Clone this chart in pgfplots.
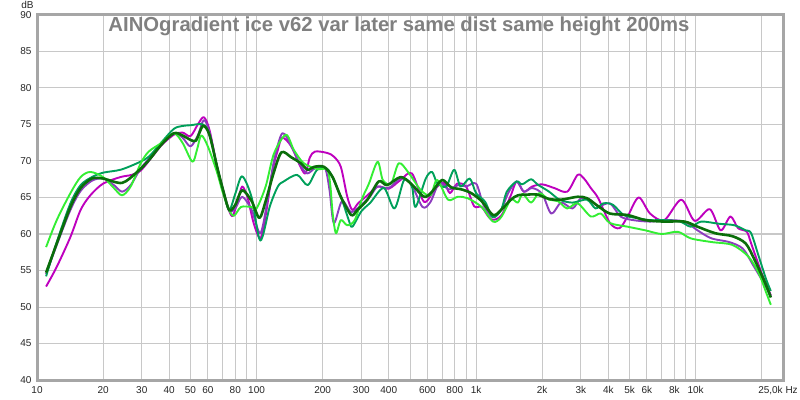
\documentclass[border=0pt]{standalone}
\usepackage{pgfplots}
\pgfplotsset{compat=1.18}
\usepackage{fontspec}
\setmainfont{Liberation Sans}
\definecolor{cMag}{HTML}{BE00BE}
\definecolor{cPur}{HTML}{8C3CBE}
\definecolor{cTeal}{HTML}{00A05A}
\definecolor{cLgr}{HTML}{33EE33}
\definecolor{cDgr}{HTML}{0A6E0A}
\definecolor{gridc}{HTML}{C8C8C8}
\definecolor{framec}{HTML}{A6A6A6}
\definecolor{titlec}{HTML}{808080}
\begin{document}
\begin{tikzpicture}[x=1pt,y=1pt]
\path[use as bounding box] (0,0) rectangle (800,399);
\begin{axis}[name=ax, at={(37pt,19pt)}, anchor=south west,
  scale only axis, width=746pt, height=365pt,
  xmode=log, xmin=10, xmax=25000, ymin=40, ymax=90,
  ytick={40,45,...,90},
  xtick={10,20,30,40,50,60,80,100,200,300,400,600,800,1000,2000,3000,4000,5000,6000,8000,10000},
  xticklabels={10,20,30,40,50,60,80,100,200,300,400,600,800,1k,2k,3k,4k,5k,6k,8k,10k},
  minor xtick={70,90,500,700,900,7000,9000,20000},
  grid=both,
  major grid style={draw=gridc, line width=1pt},
  minor grid style={draw=gridc, line width=1pt},
  major tick length=0pt, minor tick length=0pt,
  axis line style={draw=framec, line width=3pt},
  /pgf/number format/assume math mode=true,
  tick label style={font=\fontsize{10}{12}\selectfont, text=black!85},
  xticklabel style={anchor=base, yshift=-13.3pt},
  yticklabel style={anchor=east, xshift=-2pt},
  every axis plot/.append style={smooth, tension=0.5, line join=round},
]
\addplot[cMag, line width=1.9pt] coordinates {(11,52.8)(12.3,55.5)(14.2,59.6)(15.8,63.3)(17.5,65.3)(20,66.9)(24,67.8)(27,68.1)(29.7,68.7)(33.5,70.6)(37,72.2)(42,73.6)(46,73.9)(50,73.4)(54,75.0)(57.5,76.0)(61,74.3)(66,69.3)(70,66.3)(75,63.2)(78,62.5)(82,64.5)(86,66.5)(91,65.0)(97,61.5)(104,59.4)(110,62.5)(118,68.5)(125,71.5)(131,73.2)(144,72.0)(158,69.3)(167,68.3)(175,70.5)(185,71.3)(210,71.1)(225,70.6)(242,69.2)(259,65.1)(273,63.3)(290,64.2)(320,65.3)(356,66.5)(400,66.2)(453,67.4)(510,68.3)(580,64.4)(655,66.3)(715,67.0)(760,65.6)(820,66.9)(900,66.5)(980,63.8)(1060,63.7)(1170,62.0)(1300,62.5)(1440,65.3)(1530,67.2)(1650,65.8)(1800,66.5)(2000,66.8)(2270,66.3)(2600,65.8)(2900,68.1)(3100,67.6)(3330,66.3)(3600,64.9)(4070,61.5)(4500,60.8)(4900,62.4)(5500,65.0)(6200,62.8)(7200,61.9)(8600,64.7)(9900,61.8)(11600,63.4)(13000,60.5)(14400,62.4)(15600,60.8)(17100,60.3)(17900,58.7)(20000,54.6)(22000,51.6)};
\addplot[cPur, line width=1.9pt] coordinates {(11,54.5)(12.3,58.5)(14.2,63.3)(15.8,65.9)(17.8,67.3)(20,67.6)(22.4,66.7)(24.4,65.8)(26.7,66.7)(29.7,69.0)(33.5,70.8)(37,72.4)(42,73.8)(46,73.2)(50,72.0)(54,73.5)(57.5,75.6)(61,74.0)(66,69.3)(70,66.3)(75,63.2)(80,63.5)(86,65.1)(95,63.3)(104,60.1)(112,64.5)(120,70.0)(131,73.8)(144,72.0)(158,69.5)(170,68.3)(185,69.0)(205,69.0)(215,66.0)(225,61.5)(245,64.5)(270,63.0)(300,64.0)(330,65.2)(356,66.5)(400,66.3)(453,67.6)(505,66.9)(570,63.7)(620,64.4)(680,67.0)(750,66.1)(830,66.7)(900,66.5)(1000,66.9)(1080,64.0)(1190,62.3)(1300,63.3)(1400,65.6)(1530,67.2)(1650,65.8)(1800,66.3)(2000,65.5)(2200,62.8)(2440,64.3)(2750,63.5)(3000,64.9)(3300,64.7)(3600,63.8)(4070,64.2)(4550,62.4)(5200,61.9)(6200,61.7)(7400,61.9)(8900,61.7)(10200,60.5)(11800,59.4)(14200,58.9)(16400,58.0)(18300,55.7)(20500,53.2)(22000,51.5)};
\addplot[cTeal, line width=1.9pt] coordinates {(11,54.2)(12.3,58.9)(14.2,64.2)(15.8,66.7)(17.8,67.8)(20,68.4)(24,68.8)(28.6,69.7)(32.3,70.6)(37,72.6)(42,74.4)(46,74.8)(50,74.9)(57,75.0)(61,73.6)(66,69.3)(70,66.3)(75,63.3)(80,65.5)(86,67.9)(95,65.0)(104,59.1)(115,63.8)(125,66.5)(133,67.2)(153,68.1)(171,66.7)(189,68.8)(212,68.8)(242,65.1)(263,61.9)(273,61.0)(300,63.1)(330,64.3)(380,66.3)(425,63.5)(470,67.4)(510,66.5)(530,63.7)(590,67.6)(630,68.5)(665,67.0)(730,66.5)(795,68.8)(850,66.5)(935,67.6)(1000,65.6)(1100,64.4)(1190,62.3)(1300,63.3)(1380,65.8)(1530,67.2)(1620,66.8)(1780,67.5)(1900,66.8)(2150,65.8)(2400,64.7)(2750,64.3)(3200,64.7)(3500,63.5)(3800,64.2)(4200,64.0)(4700,62.6)(5350,62.2)(6200,61.9)(7200,61.9)(8500,61.7)(9500,61.0)(10600,61.7)(12800,61.4)(15000,61.2)(16900,60.5)(17900,60.1)(19400,56.9)(21000,53.7)(22000,52.2)};
\addplot[cLgr, line width=1.9pt] coordinates {(11,58.2)(12.3,61.9)(14.2,65.6)(15.8,67.8)(17.5,68.5)(20,67.8)(22.4,66.3)(24.4,65.3)(26.7,66.5)(29.7,69.7)(32.3,71.3)(37,72.5)(42,73.8)(46,72.5)(51,69.9)(53.5,71.5)(56,73.5)(60,72.0)(66,68.5)(70,65.8)(75,63.3)(79,62.5)(85,63.7)(95,63.7)(100,63.5)(110,66.5)(120,71.0)(136,73.6)(148,71.5)(164,69.7)(189,68.9)(210,68.8)(217,66.5)(222,62.9)(230,60.1)(242,61.9)(259,61.2)(280,61.9)(303,64.9)(325,66.9)(356,69.9)(376,67.4)(410,66.9)(445,69.7)(495,68.3)(560,66.0)(620,65.3)(665,67.4)(745,64.7)(825,65.1)(915,64.9)(1060,63.7)(1195,61.7)(1300,62.3)(1440,64.7)(1550,64.3)(1630,65.5)(1780,64.3)(1940,65.6)(2150,64.7)(2360,64.5)(2600,63.5)(2900,64.2)(3330,62.4)(3700,62.8)(4070,61.5)(4900,61.0)(5900,60.5)(7000,60.0)(8300,60.3)(9500,59.4)(11800,58.9)(14700,58.5)(17400,56.9)(19400,54.6)(21000,51.9)(22000,50.3)};
\addplot[cDgr, line width=2.6pt] coordinates {(11,54.7)(12.3,58.7)(14.2,63.7)(15.8,66.3)(17.8,67.6)(20,67.6)(24.4,67.0)(28.6,68.5)(32.3,70.1)(37,72.3)(42,73.8)(46,73.5)(50,72.9)(53,72.8)(57,74.8)(61,73.6)(66,69.3)(70,66.3)(75,63.3)(80,64.0)(86,66.0)(95,64.5)(103,62.2)(110,64.5)(120,68.5)(130,71.2)(144,70.5)(159,69.7)(171,68.8)(183,69.2)(203,69.2)(222,67.8)(242,65.1)(270,62.6)(288,63.3)(320,64.7)(360,67.2)(393,66.7)(453,67.8)(505,66.9)(580,65.1)(630,65.8)(700,67.4)(770,66.4)(860,66.1)(950,65.6)(1060,64.5)(1195,62.6)(1300,63.3)(1440,64.7)(1550,65.3)(1720,65.4)(1900,65.4)(2150,64.8)(2440,64.7)(2900,65.1)(3200,64.9)(3600,63.8)(4070,62.8)(4900,62.6)(5900,61.9)(7200,61.7)(8900,61.7)(10200,61.0)(12300,60.1)(14700,59.7)(16900,58.7)(18600,56.4)(20800,53.2)(22000,51.3)};
\end{axis}
\node[anchor=base, font=\fontsize{20.3}{23}\selectfont\bfseries, text=titlec] at (399,367) {AINOgradient ice v62 var later same dist same height 200ms};
\node[anchor=base, font=\fontsize{10}{12}\selectfont, text=black!85, inner sep=0pt] at (27.5,390.7) {dB};
\node[anchor=base, font=\fontsize{10}{12}\selectfont, text=black!85, inner sep=0pt] at (778,5.7) {25,0k Hz};
\end{tikzpicture}
\end{document}
